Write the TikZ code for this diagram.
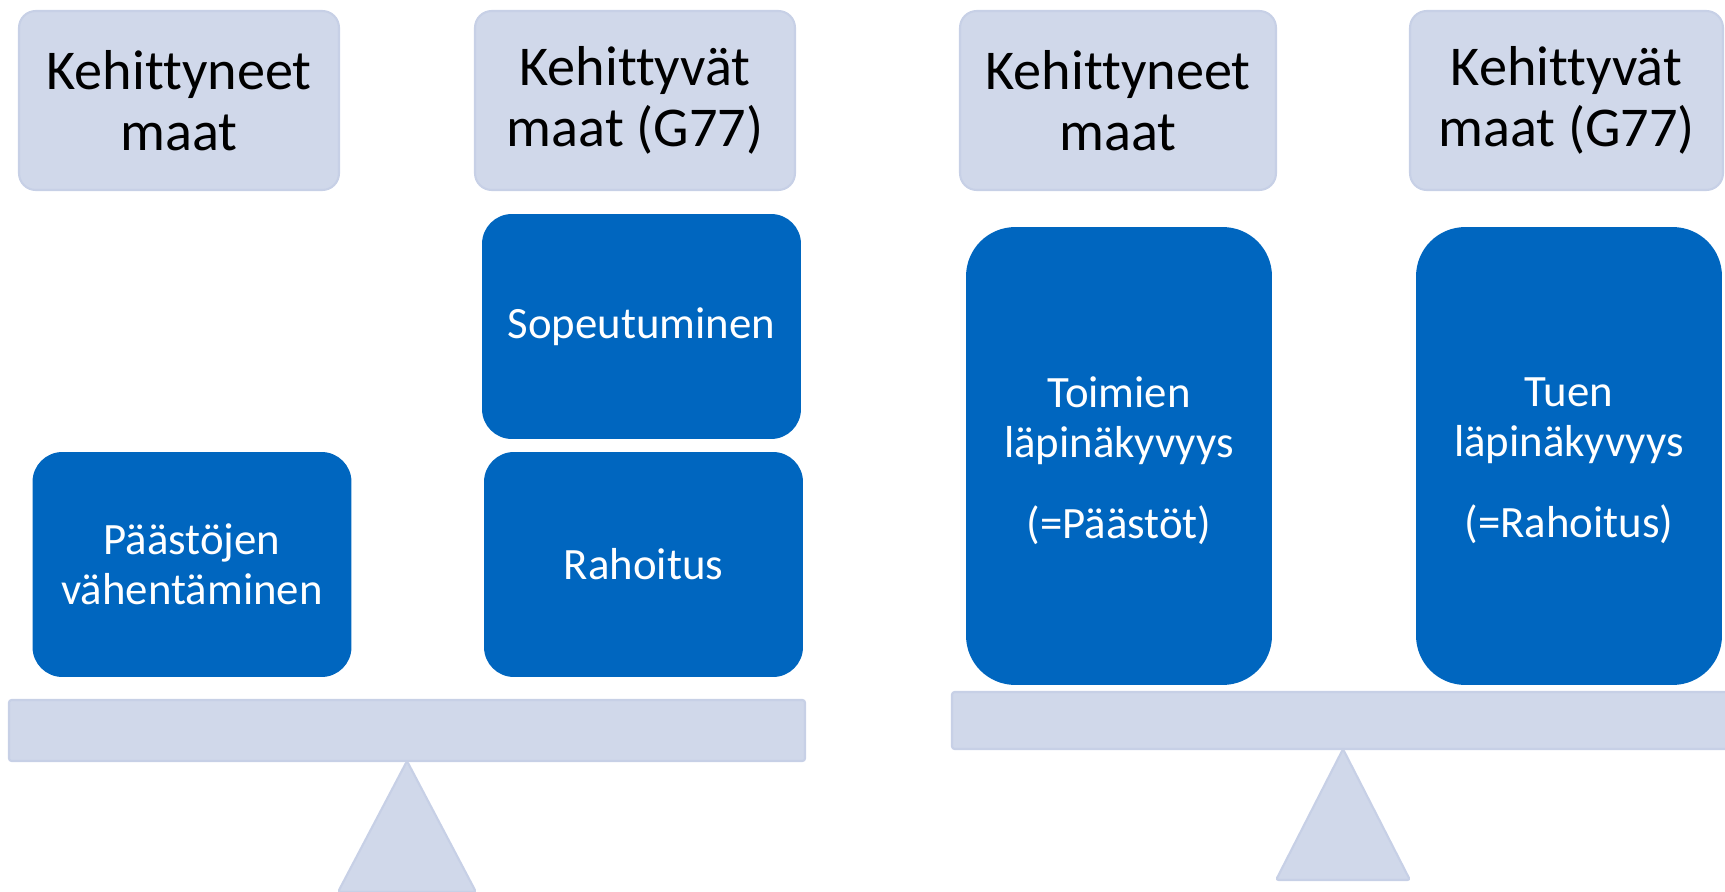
\documentclass[tikz,border=0pt]{standalone}
\usepackage{fontspec}
\setmainfont{Carlito}[Ligatures=NoCommon]
\usepackage{tikz}
\definecolor{headfill}{RGB}{208,216,234}
\definecolor{headline}{RGB}{199,208,230}
\definecolor{boxblue}{RGB}{0,102,191}
\tikzset{
  headbox/.style={draw=headline, fill=headfill, line width=1.2pt, rounded corners=9.5pt,
    align=center, inner sep=0pt, minimum height=3.58cm, font=\fontsize{32}{34.6}\selectfont},
  bluebox/.style={fill=boxblue, text=white, align=center, inner sep=0pt,
    minimum width=6.38cm, minimum height=4.5cm, rounded corners=17pt,
    font=\fontsize{25.5}{28.3}\selectfont},
  tallbox/.style={bluebox, minimum width=6.12cm, minimum height=9.16cm, rounded corners=28pt},
  beam/.style={draw=headline, fill=headfill, line width=1.2pt, rounded corners=1.5pt}
}
\begin{document}
\begin{tikzpicture}[x=0.02cm, y=-0.02cm]
    \useasboundingbox (0,0) rectangle (1725,892);
    \clip (0,0) rectangle (1725,892);
    \node[headbox, minimum width=6.4cm] (devdL) at (179,100.5) {Kehittyneet\\maat};
    \node[headbox, minimum width=6.4cm] (devgL) at (635,100.5) {Kehittyvät\\maat (G77)};
    \node[headbox, minimum width=6.32cm] (devdR) at (1118,100.5) {Kehittyneet\\maat};
    \node[headbox, minimum width=6.26cm] (devgR) at (1566.5,100.5) {Kehittyvät\\maat (G77)};
    \node[bluebox] (cuts) at (192,564.5) {Päästöjen\\vähentäminen};
    \node[bluebox] (adapt) at (641.5,326.5) {Sopeutuminen};
    \node[bluebox] (fund) at (643.5,564.5) {Rahoitus};
    \node[tallbox] (actions) at (1119,456) {};
    \node[white, align=center, font=\fontsize{25.5}{28.3}\selectfont] (actionstxt) at (1119,461)
        {Toimien\\läpinäkyvyys\\[18pt](=Päästöt)};
    \node[tallbox] (support) at (1569,456) {};
    \node[white, align=center, font=\fontsize{25.5}{28.3}\selectfont] (supporttxt) at (1569,461)
        {Tuen\\läpinäkyvyys\\[18pt](=Rahoitus)};
    \draw[beam] (9,700) rectangle (805,761);
    \draw[beam] (407,761) -- (476,892) -- (338,892) -- cycle;
    \draw[beam] (952,692) rectangle (1740,749);
    \draw[beam] (1343,749) -- (1410,880) -- (1276,880) -- cycle;
\end{tikzpicture}
\end{document}
